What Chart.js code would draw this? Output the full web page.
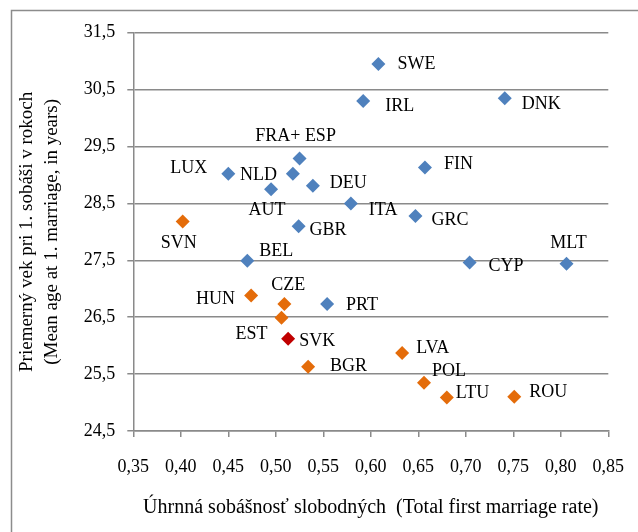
<!DOCTYPE html>
<html>
<head>
<meta charset="utf-8">
<script src="https://cdn.jsdelivr.net/npm/chart.js@4/dist/chart.umd.min.js"></script>
<style>
  body { margin: 0; background: #fff; }
  #wrap { width: 638px; height: 532px; }
</style>
</head>
<body>
<div id="wrap"><canvas id="marriageChart" width="638" height="532"></canvas></div>
<script>
// country codes, first marriage rate, mean age at first marriage, group
const countries = ['SWE', 'IRL', 'DNK', 'FIN', 'GRC', 'ITA', 'MLT', 'CYP', 'FRA+ ESP', 'ESP', 'LUX', 'AUT', 'DEU', 'GBR', 'BEL', 'PRT',
  'SVN', 'HUN', 'CZE', 'EST', 'BGR', 'LVA', 'POL', 'LTU', 'ROU', 'SVK'];
const rates = [0.608, 0.592, 0.741, 0.657, 0.647, 0.579, 0.806, 0.704, 0.525, 0.518, 0.450, 0.495, 0.539, 0.524, 0.470, 0.554,
  0.402, 0.474, 0.509, 0.506, 0.534, 0.633, 0.656, 0.680, 0.751, 0.513];
const ages = [30.95, 30.30, 30.35, 29.13, 28.28, 28.50, 27.44, 27.46, 29.29, 29.02, 29.02, 28.75, 28.81, 28.10, 27.49, 26.73,
  28.18, 26.88, 26.73, 26.49, 25.63, 25.87, 25.35, 25.09, 25.10, 26.12];
const groups = ['west', 'west', 'west', 'west', 'west', 'west', 'west', 'west', 'west', 'west', 'west', 'west', 'west', 'west', 'west', 'west',
  'east', 'east', 'east', 'east', 'east', 'east', 'east', 'east', 'east', 'svk'];
const xTicks = [0.35, 0.40, 0.45, 0.50, 0.55, 0.60, 0.65, 0.70, 0.75, 0.80, 0.85];
const yTicks = [24.5, 25.5, 26.5, 27.5, 28.5, 29.5, 30.5, 31.5];

// label text shown beside each point (empty = no label)
const pointLabels = { 'ESP': 'NLD', 'AUT': 'AUT' };

// where each label sits relative to its point (px)
const labelPlace = {
  'SWE': [19, 0, 'left'], 'IRL': [22, 5, 'left'], 'DNK': [17, 6, 'left'], 'FIN': [19, -3, 'left'],
  'GRC': [16, 4, 'left'], 'ITA': [18, 7, 'left'], 'MLT': [2, -20, 'center'], 'CYP': [19, 4, 'left'],
  'FRA+ ESP': [-4, -22, 'center'], 'ESP': [-16, 1, 'right'], 'LUX': [-21, -6, 'right'], 'AUT': [-4, 21, 'center'],
  'DEU': [17, -2, 'left'], 'GBR': [11, 4, 'left'], 'BEL': [12, -10, 'left'], 'PRT': [19, 1, 'left'],
  'SVN': [-4, 22, 'center'], 'HUN': [-16, 4, 'right'], 'CZE': [4, -19, 'center'], 'EST': [-14, 16, 'right'],
  'BGR': [22, 0, 'left'], 'LVA': [14, -5, 'left'], 'POL': [8, -11, 'left'], 'LTU': [9, -4, 'left'],
  'ROU': [15, -5, 'left'], 'SVK': [11, 2, 'left']
};

const groupColors = { west: '#4F81BD', east: '#E46C0A', svk: '#C00000' };
const serif = '"Liberation Serif", "Times New Roman", serif';

function buildDataset(group) {
  const pts = [];
  countries.forEach((c, i) => {
    if (groups[i] === group) pts.push({ x: rates[i], y: ages[i], code: c });
  });
  return {
    label: group,
    data: pts,
    pointStyle: 'rectRot',
    pointRadius: 7,
    pointHoverRadius: 7,
    backgroundColor: groupColors[group],
    borderColor: groupColors[group],
    borderWidth: 0
  };
}

const pointTextPlugin = {
  id: 'pointText',
  afterDatasetsDraw(chart) {
    const ctx = chart.ctx;
    ctx.save();
    ctx.font = '18px ' + serif;
    ctx.fillStyle = '#000';
    ctx.textBaseline = 'middle';
    chart.data.datasets.forEach((ds, di) => {
      const meta = chart.getDatasetMeta(di);
      ds.data.forEach((p, j) => {
        const el = meta.data[j];
        const text = pointLabels[p.code] !== undefined ? pointLabels[p.code] : p.code;
        const place = labelPlace[p.code];
        if (!text || !place) return;
        ctx.textAlign = place[2];
        ctx.fillText(text, el.x + place[0], el.y + place[1]);
      });
    });
    ctx.restore();
  }
};

const framePlugin = {
  id: 'frame',
  beforeDraw(chart) {
    const ctx = chart.ctx;
    ctx.save();
    ctx.strokeStyle = '#8c8c8c';
    ctx.lineWidth = 1.5;
    ctx.strokeRect(11.5, 10.5, 700, 600);
    ctx.restore();
  }
};

const gridGray = '#8a8a8a';

new Chart(document.getElementById('marriageChart').getContext('2d'), {
  type: 'scatter',
  data: { datasets: [buildDataset('west'), buildDataset('east'), buildDataset('svk')] },
  options: {
    responsive: false,
    animation: false,
    layout: { padding: { top: 32.7, right: 29.7, bottom: 0, left: 0 } },
    plugins: { legend: { display: false }, tooltip: { enabled: false } },
    scales: {
      x: {
        type: 'linear',
        min: 0.35,
        max: 0.85,
        afterBuildTicks: s => { s.ticks = xTicks.map(v => ({ value: v })); },
        afterFit: s => { s.height = 101; s.paddingLeft = 0; s.paddingRight = 0; },
        grid: { drawOnChartArea: false, drawTicks: true, tickLength: 6, color: gridGray, lineWidth: 1.5 },
        border: { color: gridGray, width: 1.5 },
        ticks: {
          color: '#000',
          padding: 19,
          maxRotation: 0,
          font: { family: serif, size: 18 },
          callback: v => v.toFixed(2).replace('.', ',')
        },
        title: {
          display: true,
          text: 'Úhrnná sobášnosť slobodných  (Total first marriage rate)',
          color: '#000',
          font: { family: serif, size: 20 },
          padding: { top: 0, bottom: 12 }
        }
      },
      y: {
        type: 'linear',
        min: 24.5,
        max: 31.5,
        afterBuildTicks: s => { s.ticks = yTicks.map(v => ({ value: v })); },
        afterFit: s => { s.width = 133.3; s.paddingTop = 0; s.paddingBottom = 0; },
        grid: { drawOnChartArea: true, drawTicks: true, tickLength: 6, color: gridGray, lineWidth: 1.5 },
        border: { color: gridGray, width: 1.5 },
        ticks: {
          color: '#000',
          padding: 12,
          font: { family: serif, size: 18 },
          callback: v => v.toFixed(1).replace('.', ',')
        },
        title: {
          display: true,
          text: ['Priemerný vek pri 1. sobáši v rokoch', '(Mean age at 1. marriage, in years)'],
          color: '#000',
          font: { family: serif, size: 19, lineHeight: 1.3 },
          padding: { top: 15, bottom: 0 }
        }
      }
    }
  },
  plugins: [pointTextPlugin, framePlugin]
});
</script>
</body>
</html>
